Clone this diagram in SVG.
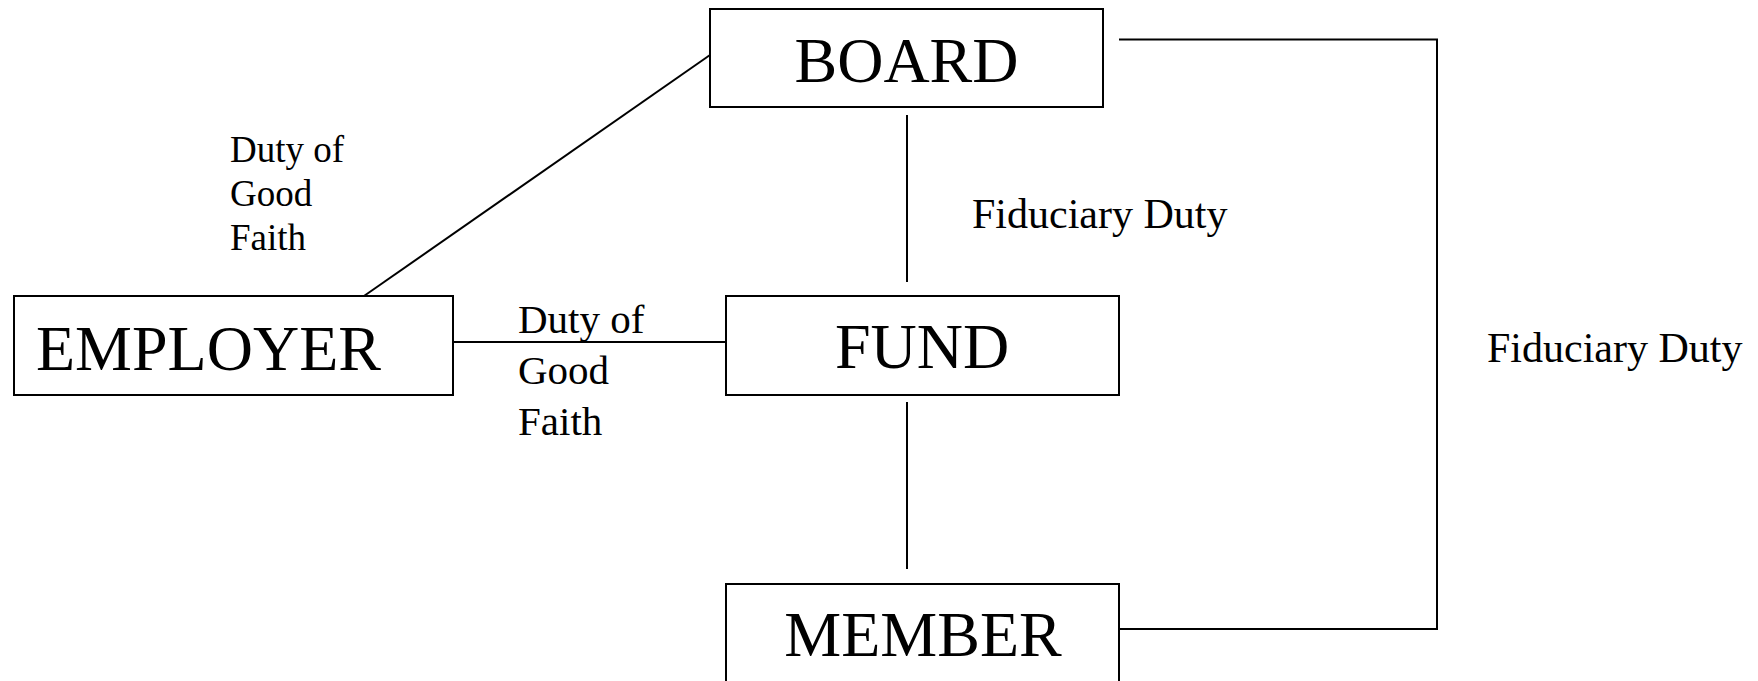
<svg xmlns="http://www.w3.org/2000/svg" width="1758" height="681" viewBox="0 0 1758 681">
<style>
.box{fill:#fff;stroke:#000;stroke-width:2}
.ln{fill:none;stroke:#000;stroke-width:2}
.t{font-family:"Liberation Serif","Times New Roman",serif;fill:#000}
.n{font-size:64px}
.lbl{font-size:42px}
</style>
<rect width="1758" height="681" fill="#fff"/>
<g id="connectors">
<line class="ln" x1="364" y1="296" x2="710" y2="55"/>
<line class="ln" x1="453" y1="342" x2="726" y2="342"/>
<line class="ln" x1="907" y1="115" x2="907" y2="282"/>
<line class="ln" x1="907" y1="402" x2="907" y2="569"/>
<polyline class="ln" points="1119,39.5 1437,39.5 1437,629 1119,629"/>
</g>
<g id="labels">
<text class="t" x="230" y="162" font-size="37">Duty of</text>
<text class="t" x="230" y="206" font-size="37">Good</text>
<text class="t" x="230" y="250" font-size="37">Faith</text>
<text class="t" x="518" y="333" font-size="41">Duty of</text>
<text class="t" x="518" y="384" font-size="41">Good</text>
<text class="t" x="518" y="435" font-size="41">Faith</text>
<text class="t lbl" x="972" y="228">Fiduciary Duty</text>
<text class="t lbl" x="1487" y="362">Fiduciary Duty</text>
</g>
<g id="board">
<rect class="box" x="710" y="9" width="393" height="98"/>
<text class="t n" x="906.5" y="82" text-anchor="middle">BOARD</text>
</g>
<g id="employer">
<rect class="box" x="14" y="296" width="439" height="99"/>
<text class="t n" x="36" y="370">EMPLOYER</text>
</g>
<g id="fund">
<rect class="box" x="726" y="296" width="393" height="99"/>
<text class="t n" x="922" y="368" text-anchor="middle">FUND</text>
</g>
<g id="member">
<rect class="box" x="726" y="584" width="393" height="120"/>
<text class="t n" x="923" y="656" text-anchor="middle">MEMBER</text>
</g>
</svg>
